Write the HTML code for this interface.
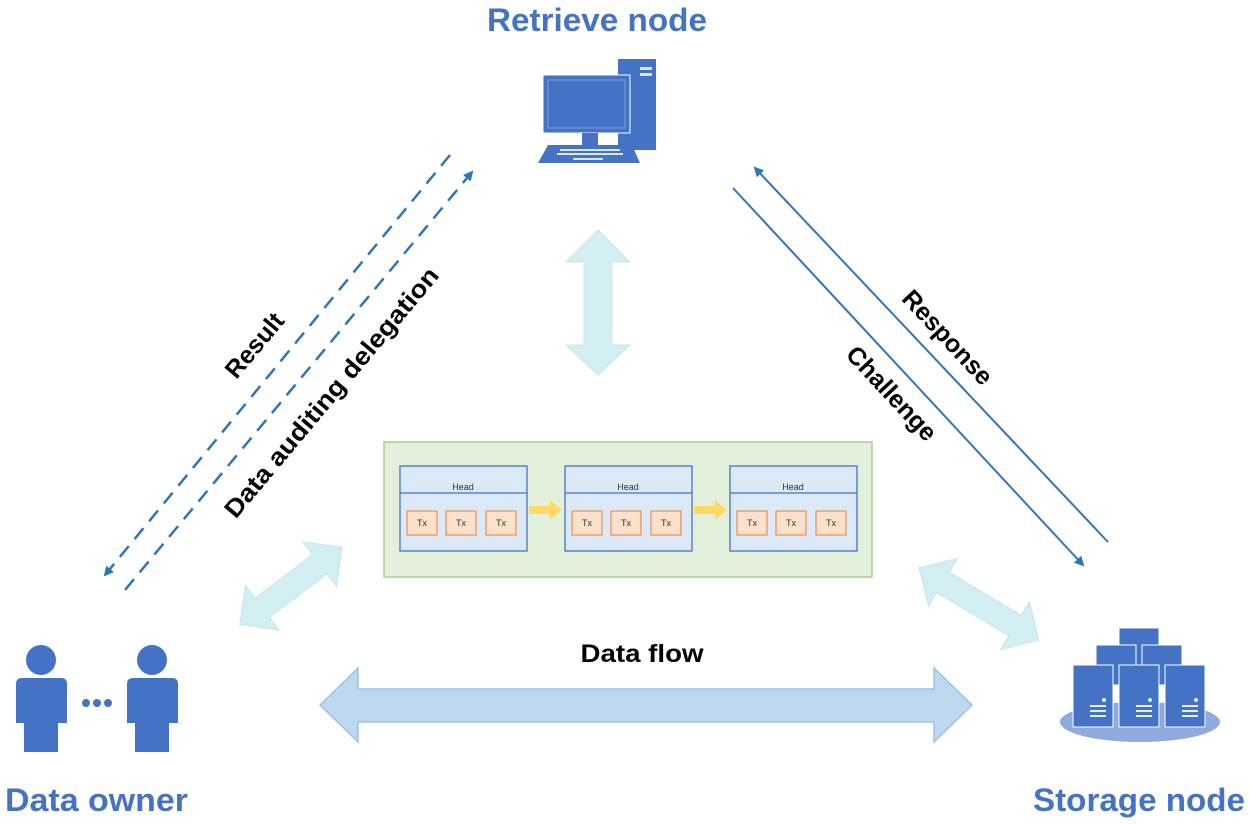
<!DOCTYPE html>
<html><head><style>body{margin:0;background:#fff}svg{display:block}text{font-family:"Liberation Sans",sans-serif}</style></head><body>
<svg width="1250" height="824" viewBox="0 0 1250 824" xmlns="http://www.w3.org/2000/svg">
<defs>
<marker id="ah" markerWidth="10" markerHeight="10" refX="8" refY="5" orient="auto" markerUnits="userSpaceOnUse"><path d="M0,0 L10,5 L0,10 z" fill="#2e75b6"/></marker>
</defs>
<text x="597" y="31" text-anchor="middle" font-size="32" font-weight="bold" fill="#4472c4" textLength="220" lengthAdjust="spacingAndGlyphs">Retrieve node</text>
<text x="5" y="811" font-size="32" font-weight="bold" fill="#4472c4" textLength="183" lengthAdjust="spacingAndGlyphs">Data owner</text>
<text x="1245" y="811" text-anchor="end" font-size="32" font-weight="bold" fill="#4472c4" textLength="212" lengthAdjust="spacingAndGlyphs">Storage node</text>
<!-- computer -->
<g fill="#4472c4">
<rect x="618" y="59" width="38" height="91"/>
<rect x="640" y="67" width="12" height="3" fill="#dde6f5"/><rect x="640" y="73" width="12" height="3" fill="#dde6f5"/>
<rect x="543" y="75" width="87" height="58" stroke="#fff" stroke-width="1"/>
<rect x="548" y="80" width="77" height="48" fill="none" stroke="#7f9fd8" stroke-width="1"/>
<rect x="582" y="133" width="16" height="13"/>
<path d="M548,145 L632,145 L640,163 L538,163 z"/>
</g>
<g fill="#dde6f5"><rect x="560" y="149" width="60" height="2"/><rect x="557" y="153" width="66" height="2"/><rect x="573" y="158" width="30" height="2"/></g>
<!-- dashed lines -->
<line x1="450" y1="155" x2="105" y2="575" stroke="#2e75b6" stroke-width="2.5" stroke-dasharray="14,9" marker-end="url(#ah)"/>
<line x1="125" y1="590" x2="472" y2="172" stroke="#2e75b6" stroke-width="2.5" stroke-dasharray="14,9" marker-end="url(#ah)"/>
<!-- solid -->
<line x1="1108" y1="542" x2="755" y2="168" stroke="#2e75b6" stroke-width="2" marker-end="url(#ah)"/>
<line x1="733" y1="188" x2="1083" y2="565" stroke="#2e75b6" stroke-width="2" marker-end="url(#ah)"/>
<text transform="translate(254,345) rotate(-50)" text-anchor="middle" font-size="25" font-weight="bold" dy="9">Result</text>
<text transform="translate(331,392) rotate(-50)" text-anchor="middle" font-size="25" font-weight="bold" dy="9" textLength="318" lengthAdjust="spacingAndGlyphs">Data auditing delegation</text>
<text transform="translate(948,337) rotate(47)" text-anchor="middle" font-size="25" font-weight="bold" dy="9">Response</text>
<text transform="translate(892,393) rotate(47)" text-anchor="middle" font-size="25" font-weight="bold" dy="9">Challenge</text>
<!-- light arrows -->
<g fill="#d3eef3" stroke="#c5e6ee" stroke-width="1">
<path d="M598,230 L630,262 L612,262 L612,345 L630,345 L598,375 L566,345 L584,345 L584,262 L566,262 z"/>
<g transform="translate(291,586) rotate(-37)"><path d="M-64,0 L-36,-28 L-36,-12 L36,-12 L36,-28 L64,0 L36,28 L36,12 L-36,12 L-36,28 z"/></g>
<g transform="translate(979,604) rotate(31)"><path d="M-70,0 L-42,-28 L-42,-12 L42,-12 L42,-28 L70,0 L42,28 L42,12 L-42,12 L-42,28 z"/></g>
</g>
<path d="M320,705 L358,668 L358,689 L934,689 L934,668 L972,705 L934,742 L934,722 L358,722 L358,742 z" fill="#bdd7ee" stroke="#9dc3e6" stroke-width="1.5"/>
<text x="642" y="662" text-anchor="middle" font-size="25" font-weight="bold" textLength="123" lengthAdjust="spacingAndGlyphs">Data flow</text>
<!-- blockchain -->
<rect x="384" y="442" width="488" height="135" fill="#e2efda" stroke="#a9d18e" stroke-width="1.5"/>
<g font-size="9" fill="#333">
<g id="b1"><rect x="400" y="466" width="127" height="85" fill="#dae8f7" stroke="#4472c4" stroke-width="1.3"/><line x1="400" y1="493" x2="527" y2="493" stroke="#4472c4" stroke-width="1.3"/><text x="463" y="490" text-anchor="middle">Head</text>
<rect x="407" y="511" width="30" height="24" fill="#fbe0cc" stroke="#ed7d31"/><text x="422" y="526" text-anchor="middle">Tx</text>
<rect x="446" y="511" width="30" height="24" fill="#fbe0cc" stroke="#ed7d31"/><text x="461" y="526" text-anchor="middle">Tx</text>
<rect x="486" y="511" width="30" height="24" fill="#fbe0cc" stroke="#ed7d31"/><text x="501" y="526" text-anchor="middle">Tx</text></g>
<use href="#b1" x="165"/><use href="#b1" x="330"/>
</g>
<path d="M529,506 L550,506 L550,500 L562,510 L550,520 L550,514 L529,514 z" fill="#ffd966"/>
<path d="M694,506 L715,506 L715,500 L727,510 L715,520 L715,514 L694,514 z" fill="#ffd966"/>
<!-- people -->
<g fill="#4472c4" id="p"><circle cx="41" cy="660" r="15"/><path d="M16,684 Q16,678 22,678 L61,678 Q67,678 67,684 L67,723 L58,723 L58,752 L24,752 L24,723 L16,723 z"/></g>
<use href="#p" x="111"/>
<g fill="#4472c4"><circle cx="86" cy="703" r="4"/><circle cx="97" cy="703" r="4"/><circle cx="108" cy="703" r="4"/></g>
<!-- servers -->
<ellipse cx="1140" cy="722" rx="80" ry="20" fill="#8faadc"/>
<g fill="#4472c4" stroke="#fff" stroke-width="1">
<rect x="1119" y="628" width="40" height="40"/>
<rect x="1096" y="645" width="40" height="40"/><rect x="1142" y="645" width="40" height="40"/>
<rect x="1073" y="665" width="40" height="62"/><rect x="1119" y="665" width="40" height="62"/><rect x="1165" y="665" width="40" height="62"/>
</g>
<g fill="#e8eef8"><circle cx="1104" cy="700" r="2"/><circle cx="1150" cy="700" r="2"/><circle cx="1196" cy="700" r="2"/>
<rect x="1090" y="705" width="16" height="2"/><rect x="1090" y="710" width="16" height="2"/><rect x="1090" y="715" width="16" height="2"/>
<rect x="1136" y="705" width="16" height="2"/><rect x="1136" y="710" width="16" height="2"/><rect x="1136" y="715" width="16" height="2"/>
<rect x="1182" y="705" width="16" height="2"/><rect x="1182" y="710" width="16" height="2"/><rect x="1182" y="715" width="16" height="2"/></g>
</svg>
</body></html>
